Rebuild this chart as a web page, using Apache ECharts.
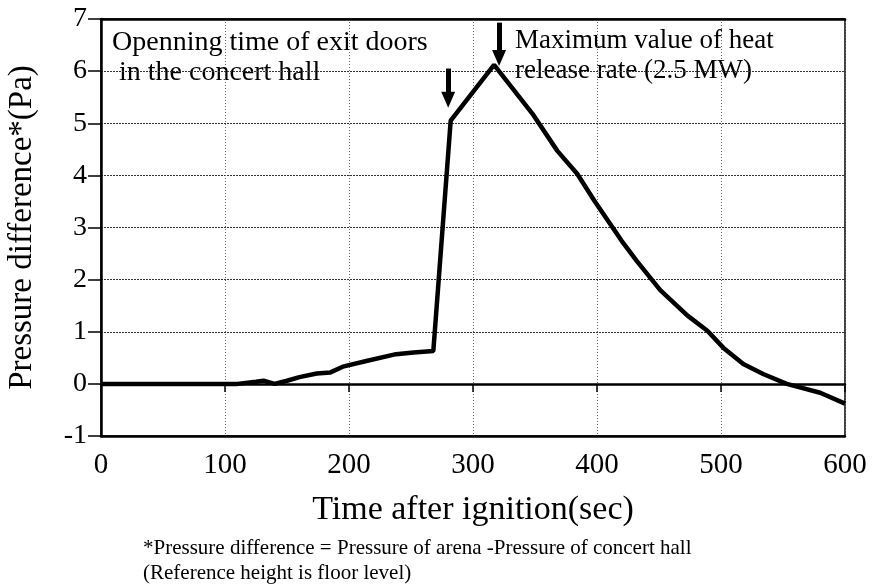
<!DOCTYPE html>
<html>
<head>
<meta charset="utf-8">
<script src="https://cdn.jsdelivr.net/npm/echarts@6/dist/echarts.min.js"></script>
<style>html,body{margin:0;padding:0;background:#fff}#c{width:880px;height:588px}</style>
</head>
<body>
<div id="c"></div>
<script>
const times = [0,110,125,131,140,150,160,174,185,195,214,238,252,268,282,317,348,368,384,398,420,432,451,473,489,502,518,534,553,580,600];
const pressure = [0,0,0.04,0.06,0.0,0.06,0.13,0.2,0.22,0.33,0.44,0.57,0.6,0.63,5.05,6.12,5.18,4.47,4.03,3.51,2.74,2.36,1.8,1.31,1.02,0.69,0.38,0.19,0.0,-0.17,-0.38];
const xTicks = [0,100,200,300,400,500,600];
const yTicks = [-1,0,1,2,3,4,5,6,7];
const arrowDoors = [[280,6.05],[280,5.45]];
const arrowPeak = [[321,6.93],[321,6.25]];

const FONT = "'Liberation Serif','Times New Roman',serif";
const chart = echarts.init(document.getElementById('c'));
chart.setOption({
  animation:false,
  backgroundColor:'#fff',
  grid:{left:101,right:35,top:19,bottom:152,containLabel:false,outerBoundsMode:'none',show:true,borderColor:'#000',borderWidth:1.5,backgroundColor:'transparent'},
  xAxis:[{
    type:'value',min:xTicks[0],max:xTicks[xTicks.length-1],interval:100,position:'bottom',
    axisLine:{onZero:false,lineStyle:{color:'#000',width:2.5}},
    axisTick:{show:false},
    axisLabel:{color:'#000',fontFamily:FONT,fontSize:29,margin:15},
    splitLine:{show:true,lineStyle:{color:'#666',type:[1,2],width:1}},
    name:'Time after ignition(sec)',nameLocation:'middle',nameGap:57,
    nameTextStyle:{color:'#000',fontFamily:FONT,fontSize:34}
  },{
    type:'value',min:0,max:600,interval:100,position:'bottom',
    axisLine:{onZero:true,lineStyle:{color:'#000',width:2.5}},
    axisTick:{show:true,length:8,lineStyle:{color:'#000',width:1.5}},
    axisLabel:{show:false},splitLine:{show:false}
  },{
    type:'value',min:0,max:600,interval:100,position:'top',
    axisLine:{onZero:false,lineStyle:{color:'#000',width:2.5}},
    axisTick:{show:false},axisLabel:{show:false},splitLine:{show:false}
  }],
  yAxis:{
    type:'value',min:yTicks[0],max:yTicks[yTicks.length-1],interval:1,
    axisLine:{onZero:false,lineStyle:{color:'#000',width:2.5}},
    axisTick:{show:true,length:13,lineStyle:{color:'#000',width:1.5}},
    axisLabel:{color:'#000',fontFamily:FONT,fontSize:28,margin:14},
    splitLine:{show:true,lineStyle:{color:'#333',type:[2,1],width:1}},
    name:'Pressure difference*(Pa)',nameLocation:'middle',nameGap:62,
    nameTextStyle:{color:'#000',fontFamily:FONT,fontSize:33}
  },
  series:[{
    type:'line',xAxisIndex:0,data:times.map((t,i)=>[t,pressure[i]]),
    showSymbol:false,symbol:'none',lineStyle:{color:'#000',width:4.5},
    markLine:{
      silent:true,symbol:['none','triangle'],symbolSize:[14,16],
      label:{show:false},
      lineStyle:{color:'#000',width:5,type:'solid'},
      data:[
        [{coord:arrowDoors[0]},{coord:arrowDoors[1]}],
        [{coord:arrowPeak[0]},{coord:arrowPeak[1]}]
      ]
    }
  }],
  graphic:[
    {type:'text',left:112,top:28,style:{text:'Openning time of exit doors\n in the concert hall',fontFamily:FONT,fontSize:28,fill:'#000',lineHeight:30}},
    {type:'text',left:515,top:26,style:{text:'Maximum value of heat\nrelease rate (2.5 MW)',fontFamily:FONT,fontSize:27,fill:'#000',lineHeight:30}},
    {type:'text',left:143,top:536,style:{text:'*Pressure difference = Pressure of arena -Pressure of concert hall\n(Reference height is floor level)',fontFamily:FONT,fontSize:21,fill:'#000',lineHeight:25}}
  ]
});
</script>
</body>
</html>
